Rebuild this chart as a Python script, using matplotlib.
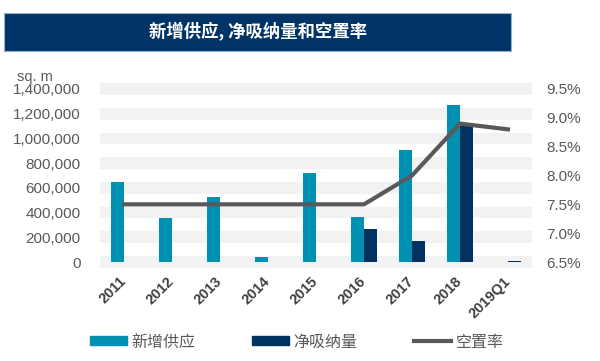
import matplotlib
matplotlib.use("Agg")
import matplotlib.pyplot as plt
import numpy as np
from matplotlib.patches import Rectangle, Patch
from matplotlib.lines import Line2D
from matplotlib.ticker import FuncFormatter

plt.rcParams["font.family"] = ["Liberation Sans", "Noto Sans CJK SC"]

# --- data ---
years = ["2011", "2012", "2013", "2014", "2015", "2016", "2017", "2018", "2019Q1"]
new_supply = [650000, 360000, 525000, 40000, 720000, 365000, 905000, 1270000, 0]
net_absorption = [0, 0, 0, 0, 0, 265000, 170000, 1100000, 10000]
vacancy = [7.5, 7.5, 7.5, 7.5, 7.5, 7.5, 8.0, 8.9, 8.8]
left_ticks = [0, 200000, 400000, 600000, 800000, 1000000, 1200000, 1400000]
right_ticks = [6.5, 7.0, 7.5, 8.0, 8.5, 9.0, 9.5]

TEAL = "#0090B2"
NAVY = "#00335F"
LINE = "#595959"
BAND = "#F2F2F2"
TXT = "#595959"
BANNER = "#013466"

W, H = 600, 361
fig = plt.figure(figsize=(W / 100, H / 100), dpi=100, facecolor="white")

# title banner
fig.patches.append(Rectangle((4 / W, 1 - 51 / H), 507 / W, 38 / H,
                             transform=fig.transFigure, facecolor=BANNER,
                             edgecolor="#8fb3d1", lw=0.8, zorder=0))
fig.text(258 / W, 1 - 32 / H, "新增供应, 净吸纳量和空置率", color="white",
         fontsize=12.5, fontweight="bold", ha="center", va="center",
         family=["Noto Sans CJK SC"])

# axes placement: 0 -> y=262px, 1.4M -> y=89px
ymin, ymax = -60000, 1460000
px_per = (262 - 89) / 1400000
bot_px = 262 + (0 - ymin) * px_per
top_px = 262 - (ymax) * px_per
ax = fig.add_axes([100 / W, 1 - bot_px / H, 432 / W, (bot_px - top_px) / H])

x = np.arange(len(years))
w = 0.28
for t in left_ticks:
    ax.axhspan(t - 47000, t + 47000, color=BAND, lw=0, zorder=0)
ax.bar(x - w / 2, new_supply, w, color=TEAL, zorder=2)
ax.bar(x + w / 2, net_absorption, w, color=NAVY, zorder=2)
ax.set_xlim(-0.5, len(years) - 0.5)
ax.set_ylim(ymin, ymax)
ax.set_yticks(left_ticks)
ax.yaxis.set_major_formatter(FuncFormatter(lambda v, p: f"{v:,.0f}"))
ax.set_xticks(x)
ax.set_xticklabels(years, rotation=45, ha="right", va="center",
                   rotation_mode="anchor", fontsize=10.5, fontweight="bold",
                   color="#404040")
ax.tick_params(axis="y", length=0, pad=14, labelsize=11, labelcolor=TXT)
ax.tick_params(axis="x", length=0, pad=7)
for s in ax.spines.values():
    s.set_visible(False)

# right axis: 6.5% aligned with 0, 9.5% aligned with 1.4M
ax2 = ax.twinx()
scale = 3.0 / 1400000
ax2.set_ylim(6.5 + ymin * scale, 6.5 + ymax * scale)
ax2.plot(x, vacancy, color=LINE, lw=3, solid_joinstyle="round", zorder=3)
ax2.set_yticks(right_ticks)
ax2.yaxis.set_major_formatter(FuncFormatter(lambda v, p: f"{v:.1f}%"))
ax2.tick_params(axis="y", length=0, pad=10, labelsize=11, labelcolor=TXT)
for s in ax2.spines.values():
    s.set_visible(False)

fig.text(17 / W, 1 - 77 / H, "sq. m", fontsize=10.5, color=TXT, ha="left", va="center")

handles = [Patch(color=TEAL), Patch(color=NAVY), Line2D([], [], color=LINE, lw=3)]
labels = ["新增供应", "净吸纳量", "空置率"]
fig.legend(handles, labels, loc="center left", bbox_to_anchor=(90 / W, 1 - 342 / H),
           ncol=3, frameon=False, fontsize=11.5, labelcolor=TXT,
           handlelength=2.3, handleheight=0.5, handletextpad=0.3,
           columnspacing=3.55, borderaxespad=0, borderpad=0)

fig.savefig("out.png", dpi=100, facecolor="white")
